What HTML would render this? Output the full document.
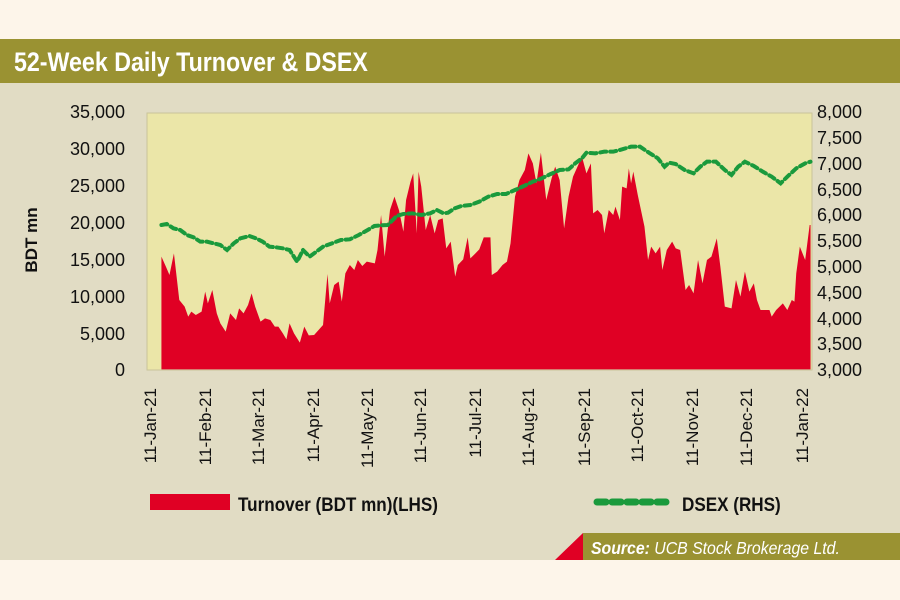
<!DOCTYPE html>
<html><head><meta charset="utf-8"><style>
html,body{margin:0;padding:0;width:900px;height:600px;overflow:hidden;background:#fdf5ea}
svg{display:block}
</style></head><body>
<svg width="900" height="600" viewBox="0 0 900 600" xmlns="http://www.w3.org/2000/svg" font-family="Liberation Sans, sans-serif">
<rect x="0" y="0" width="900" height="600" fill="#fdf5ea"/>
<rect x="0" y="39" width="900" height="521" fill="#e1dcc4"/>
<rect x="0" y="39" width="900" height="44" fill="#9a9232"/>
<text x="14" y="71" fill="#fff" font-weight="bold" font-size="27" transform="translate(14,0) scale(0.86,1) translate(-14,0)">52-Week Daily Turnover &amp; DSEX</text>
<rect x="147" y="113" width="665" height="257" fill="#ebe6a8" stroke="#c9c39a" stroke-width="1"/>
<svg x="140" y="100" width="700" height="290" viewBox="0 0 1568 870" preserveAspectRatio="none">
<path fill="#e00024" d="M48,808 48,470 58,500 66,525 76,460 88,600 100,620 108,650 115,635 125,645 138,635 146,575 152,610 162,570 172,640 180,670 192,695 202,640 215,660 222,625 232,640 242,615 250,580 258,620 270,665 280,655 292,660 302,680 310,680 320,700 328,718 335,670 345,700 358,728 368,680 378,706 390,705 410,675 420,522 425,610 435,555 445,545 452,605 460,520 470,495 480,510 488,480 498,498 508,485 526,490 532,450 540,345 548,470 560,330 570,290 580,330 590,395 596,300 606,245 612,220 620,400 624,215 630,260 640,390 650,345 660,400 668,360 678,355 686,445 696,425 706,530 712,495 724,478 734,412 740,475 750,462 760,448 770,412 785,412 788,525 800,515 812,495 822,485 830,430 840,290 850,240 862,210 870,160 880,190 888,250 898,158 910,300 922,235 930,200 940,240 950,385 960,290 970,230 980,200 990,170 1000,220 1010,190 1015,340 1025,330 1035,345 1040,400 1050,330 1060,345 1065,320 1075,360 1080,260 1090,265 1095,205 1100,250 1105,215 1115,285 1130,380 1138,480 1145,440 1155,460 1165,440 1170,510 1180,450 1192,425 1200,445 1210,450 1222,570 1230,555 1240,580 1250,480 1260,550 1270,480 1280,470 1292,415 1300,500 1310,620 1325,625 1335,540 1345,590 1355,515 1365,575 1375,550 1382,600 1390,630 1410,630 1415,650 1425,630 1440,610 1450,630 1460,600 1466,605 1470,520 1478,440 1490,480 1500,375 1502,375 1502,808Z"/>
<polyline fill="none" stroke="#1a9a3c" stroke-width="4" vector-effect="non-scaling-stroke" stroke-dasharray="6,4" stroke-linecap="round" points="48,375 60,372 75,385 90,390 105,405 120,412 135,425 150,425 165,430 180,435 195,450 210,430 225,415 245,408 260,415 275,425 290,440 305,442 320,445 335,450 352,485 365,450 380,470 395,455 410,440 430,430 450,420 470,418 490,405 510,390 525,378 540,376 555,375 575,348 590,342 610,340 630,345 650,340 665,330 680,340 690,338 705,325 720,318 740,315 760,305 780,290 800,282 820,282 840,270 860,258 880,245 900,235 920,222 940,210 960,208 975,190 990,175 1000,158 1020,160 1040,155 1060,155 1080,148 1100,140 1120,140 1140,158 1160,175 1175,200 1185,188 1200,192 1220,210 1240,220 1255,200 1270,185 1290,185 1310,210 1325,225 1340,200 1355,185 1375,198 1395,215 1415,230 1435,250 1450,230 1470,205 1490,190 1502,185"/>
</svg>
<g font-size="18" fill="#111" text-anchor="end">
<text x="125" y="118">35,000</text><text x="125" y="155">30,000</text><text x="125" y="192">25,000</text><text x="125" y="229">20,000</text><text x="125" y="266">15,000</text><text x="125" y="303">10,000</text><text x="125" y="340">5,000</text><text x="125" y="376">0</text>
</g>
<g font-size="18" fill="#111">
<text x="817" y="118">8,000</text><text x="817" y="144">7,500</text><text x="817" y="170">7,000</text><text x="817" y="196">6,500</text><text x="817" y="221">6,000</text><text x="817" y="247">5,500</text><text x="817" y="273">5,000</text><text x="817" y="299">4,500</text><text x="817" y="325">4,000</text><text x="817" y="350">3,500</text><text x="817" y="376">3,000</text>
</g>
<text transform="translate(37,240) rotate(-90)" font-size="17" font-weight="bold" text-anchor="middle" fill="#111">BDT mn</text>
<g font-size="17" fill="#111" text-anchor="end">
<text transform="translate(156,388) rotate(-90)">11-Jan-21</text>
<text transform="translate(211,388) rotate(-90)">11-Feb-21</text>
<text transform="translate(264,388) rotate(-90)">11-Mar-21</text>
<text transform="translate(319,388) rotate(-90)">11-Apr-21</text>
<text transform="translate(373,388) rotate(-90)">11-May-21</text>
<text transform="translate(426,388) rotate(-90)">11-Jun-21</text>
<text transform="translate(481,388) rotate(-90)">11-Jul-21</text>
<text transform="translate(534,388) rotate(-90)">11-Aug-21</text>
<text transform="translate(590,388) rotate(-90)">11-Sep-21</text>
<text transform="translate(643,388) rotate(-90)">11-Oct-21</text>
<text transform="translate(698,388) rotate(-90)">11-Nov-21</text>
<text transform="translate(752,388) rotate(-90)">11-Dec-21</text>
<text transform="translate(808,388) rotate(-90)">11-Jan-22</text>
</g>
<rect x="150" y="494" width="80" height="16" fill="#e00024"/>
<text x="238" y="511" font-size="19" font-weight="bold" fill="#111" transform="translate(238,0) scale(0.9,1) translate(-238,0)">Turnover (BDT mn)(LHS)</text>
<line x1="597" y1="502" x2="667" y2="502" stroke="#1a9a3c" stroke-width="7" stroke-dasharray="9,6" stroke-linecap="round"/>
<text x="682" y="511" font-size="19" font-weight="bold" fill="#111" transform="translate(682,0) scale(0.9,1) translate(-682,0)">DSEX (RHS)</text>
<polygon points="555,560 583,533 583,560" fill="#e00024"/>
<rect x="583" y="533" width="317" height="27" fill="#9a9232"/>
<text x="591" y="554" font-size="18" font-style="italic" fill="#fff" transform="translate(591,0) scale(0.88,1) translate(-591,0)"><tspan font-weight="bold">Source:</tspan> UCB Stock Brokerage Ltd.</text>
</svg>
</body></html>
